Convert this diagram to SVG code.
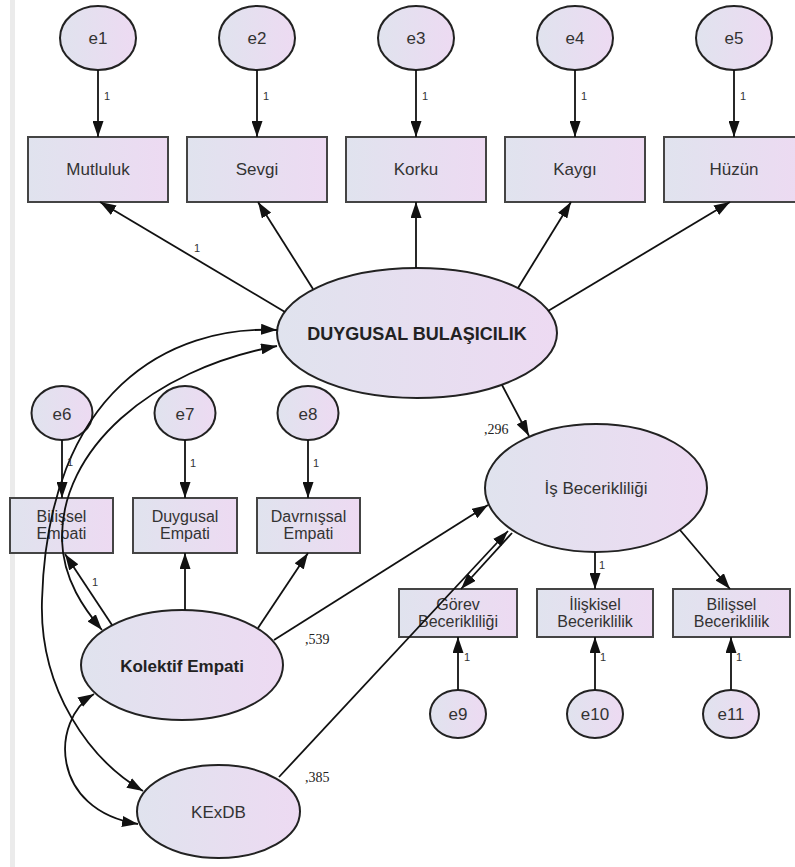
<svg xmlns="http://www.w3.org/2000/svg" width="795" height="867" viewBox="0 0 795 867">
<defs>
<linearGradient id="g" x1="0" y1="0" x2="1" y2="0">
<stop offset="0" stop-color="#e0e3ee"/>
<stop offset="1" stop-color="#eddaf2"/>
</linearGradient>
<marker id="ah" markerUnits="userSpaceOnUse" markerWidth="16" markerHeight="11" viewBox="0 0 16 11" refX="16" refY="5.5" orient="auto-start-reverse">
<path d="M0,0 L16,5.5 L0,11 z" fill="#111"/>
</marker>
</defs>
<style>
.el{fill:url(#g);stroke:#222;stroke-width:2}
.bx{fill:url(#g);stroke:#444;stroke-width:2}
.t{font-family:"Liberation Sans",Arial,sans-serif;font-size:17px;fill:#333;text-anchor:middle}
.t2{font-family:"Liberation Sans",Arial,sans-serif;font-size:16px;fill:#333;text-anchor:middle}
.tb{font-family:"Liberation Sans",Arial,sans-serif;font-weight:bold;fill:#222;text-anchor:middle}
.w{font-family:"Liberation Sans",Arial,sans-serif;font-size:11px;fill:#333}
.c{font-family:"Liberation Serif","Times New Roman",serif;font-size:14px;fill:#222}
.ln{fill:none;stroke:#111;stroke-width:1.8}
.a{marker-end:url(#ah)}
.d{marker-start:url(#ah);marker-end:url(#ah)}
</style>
<rect x="10" y="0" width="5" height="867" fill="#ebebeb"/>

<g id="e1"><ellipse class="el" cx="98" cy="38" rx="38" ry="32"/><text class="t" x="98" y="44">e1</text></g>
<g id="e2"><ellipse class="el" cx="257" cy="38" rx="38" ry="32"/><text class="t" x="257" y="44">e2</text></g>
<g id="e3"><ellipse class="el" cx="416" cy="38" rx="38" ry="32"/><text class="t" x="416" y="44">e3</text></g>
<g id="e4"><ellipse class="el" cx="575" cy="38" rx="38" ry="32"/><text class="t" x="575" y="44">e4</text></g>
<g id="e5"><ellipse class="el" cx="734" cy="38" rx="38" ry="32"/><text class="t" x="734" y="44">e5</text></g>

<g id="mutluluk"><rect class="bx" x="28" y="137" width="140" height="65"/><text class="t" x="98" y="175">Mutluluk</text></g>
<g id="sevgi"><rect class="bx" x="187" y="137" width="140" height="65"/><text class="t" x="257" y="175">Sevgi</text></g>
<g id="korku"><rect class="bx" x="346" y="137" width="140" height="65"/><text class="t" x="416" y="175">Korku</text></g>
<g id="kaygi"><rect class="bx" x="505" y="137" width="140" height="65"/><text class="t" x="575" y="175">Kaygı</text></g>
<g id="huzun"><rect class="bx" x="664" y="137" width="140" height="65"/><text class="t" x="734" y="175">Hüzün</text></g>

<g id="duygusal-bulasicilik"><ellipse class="el" cx="417" cy="333" rx="140" ry="65"/><text class="tb" x="417" y="340" font-size="18">DUYGUSAL BULAŞICILIK</text></g>

<g id="e6"><ellipse class="el" cx="62" cy="413" rx="30.5" ry="27"/><text class="t" x="62" y="420">e6</text></g>
<g id="e7"><ellipse class="el" cx="185" cy="413" rx="30.5" ry="27"/><text class="t" x="185" y="420">e7</text></g>
<g id="e8"><ellipse class="el" cx="308" cy="413" rx="30.5" ry="27"/><text class="t" x="308" y="420">e8</text></g>

<g id="bilissel-empati"><rect class="bx" x="10" y="498" width="103" height="55"/><text class="t2" x="61.5" y="522">Bilişsel<tspan x="61.5" dy="17">Empati</tspan></text></g>
<g id="duygusal-empati"><rect class="bx" x="133" y="498" width="104" height="55"/><text class="t2" x="185" y="522">Duygusal<tspan x="185" dy="17">Empati</tspan></text></g>
<g id="davranissal-empati"><rect class="bx" x="257" y="498" width="103" height="55"/><text class="t2" x="308.5" y="522">Davrnışsal<tspan x="308.5" dy="17">Empati</tspan></text></g>

<g id="is-beceriklilig"><ellipse class="el" cx="596" cy="488" rx="111" ry="64"/><text class="t" x="596" y="494">İş Becerikliliği</text></g>

<g id="gorev"><rect class="bx" x="399" y="589" width="118" height="48"/><text class="t2" x="458" y="610">Görev<tspan x="458" dy="17">Becerikliliği</tspan></text></g>
<g id="iliskisel"><rect class="bx" x="537" y="589" width="116" height="48"/><text class="t2" x="595" y="610">İlişkisel<tspan x="595" dy="17">Beceriklilik</tspan></text></g>
<g id="bilissel-bec"><rect class="bx" x="673" y="589" width="117" height="48"/><text class="t2" x="731.5" y="610">Bilişsel<tspan x="731.5" dy="17">Beceriklilik</tspan></text></g>

<g id="kolektif-empati"><ellipse class="el" cx="182" cy="665" rx="101" ry="55"/><text class="tb" x="182" y="672" font-size="17">Kolektif Empati</text></g>

<g id="e9"><ellipse class="el" cx="458" cy="714" rx="28" ry="24"/><text class="t" x="458" y="720">e9</text></g>
<g id="e10"><ellipse class="el" cx="595" cy="714" rx="28" ry="24"/><text class="t" x="595" y="720">e10</text></g>
<g id="e11"><ellipse class="el" cx="731" cy="714" rx="28" ry="24"/><text class="t" x="731" y="720">e11</text></g>

<g id="kexdb"><ellipse class="el" cx="218.5" cy="811.5" rx="81.5" ry="46.5"/><text class="t" x="218.5" y="818">KExDB</text></g>

<g id="connectors">
<line class="ln a" x1="98" y1="70" x2="98" y2="137"/>
<line class="ln a" x1="257" y1="70" x2="257" y2="137"/>
<line class="ln a" x1="416" y1="70" x2="416" y2="137"/>
<line class="ln a" x1="575" y1="70" x2="575" y2="137"/>
<line class="ln a" x1="734" y1="70" x2="734" y2="137"/>
<line class="ln a" x1="285" y1="312" x2="100" y2="202"/>
<line class="ln a" x1="313" y1="289" x2="258" y2="202"/>
<line class="ln a" x1="416" y1="268" x2="416" y2="202"/>
<line class="ln a" x1="518" y1="288" x2="571" y2="202"/>
<line class="ln a" x1="548" y1="311" x2="730" y2="202"/>
<line class="ln a" x1="502" y1="385" x2="529" y2="436"/>
<line class="ln a" x1="62" y1="440" x2="62" y2="498"/>
<line class="ln a" x1="185" y1="440" x2="185" y2="498"/>
<line class="ln a" x1="308" y1="440" x2="308" y2="498"/>
<line class="ln a" x1="112" y1="625" x2="65" y2="554"/>
<line class="ln a" x1="185" y1="610" x2="185" y2="553"/>
<line class="ln a" x1="258" y1="628" x2="308" y2="553"/>
<line class="ln a" x1="274" y1="640" x2="488" y2="505"/>
<line class="ln a" x1="279" y1="777" x2="508" y2="531"/>
<line class="ln a" x1="512" y1="533" x2="461" y2="589"/>
<line class="ln a" x1="595" y1="552" x2="595" y2="589"/>
<line class="ln a" x1="680" y1="530" x2="730" y2="589"/>
<line class="ln a" x1="458" y1="690" x2="458" y2="637"/>
<line class="ln a" x1="595" y1="690" x2="595" y2="637"/>
<line class="ln a" x1="731" y1="690" x2="731" y2="637"/>
<path class="ln d" d="M277,330 C170,325 48,390 42,600 C39,690 90,760 143,791"/>
<path class="ln d" d="M277,346 C150,370 60,450 62,540 C63,580 85,610 102,630"/>
<path class="ln d" d="M94,694 C50,720 50,810 138,824"/>
</g>

<g id="labels">
<text class="w" x="104" y="100">1</text>
<text class="w" x="263" y="100">1</text>
<text class="w" x="422" y="100">1</text>
<text class="w" x="581" y="100">1</text>
<text class="w" x="740" y="100">1</text>
<text class="w" x="194" y="252">1</text>
<text class="w" x="67" y="466">1</text>
<text class="w" x="190" y="467">1</text>
<text class="w" x="313" y="467">1</text>
<text class="w" x="92" y="586">1</text>
<text class="w" x="599" y="569">1</text>
<text class="w" x="464" y="661">1</text>
<text class="w" x="600" y="661">1</text>
<text class="w" x="736" y="661">1</text>
<text class="c" x="484" y="434">,296</text>
<text class="c" x="305" y="644">,539</text>
<text class="c" x="305" y="782">,385</text>
</g>
</svg>
